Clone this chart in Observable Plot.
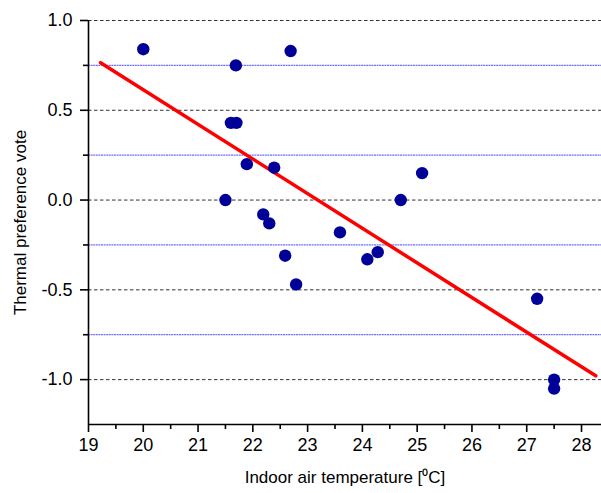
<!DOCTYPE html>
<html>
<head>
<meta charset="utf-8">
<script src="https://cdn.jsdelivr.net/npm/d3@7"></script>
<script src="https://cdn.jsdelivr.net/npm/@observablehq/plot@0.6"></script>
<style>
  html, body { margin: 0; padding: 0; background: #fff; }
  #chart svg [aria-label$="axis label"] text { font-size: 17px; }
</style>
</head>
<body>
<div id="chart"></div>
<script>
// Measured indoor air temperature [°C] and mean thermal preference vote
const temperature = [20.0, 22.69, 21.69, 21.6, 21.7, 21.89, 22.39, 21.5, 22.19, 22.3,
                     23.59, 24.7, 25.09, 24.28, 24.09, 22.59, 22.79, 27.19, 27.5, 27.5];
const preference  = [0.84, 0.83, 0.75, 0.43, 0.43, 0.20, 0.18, 0.0, -0.08, -0.13,
                     -0.18, 0.0, 0.15, -0.29, -0.33, -0.31, -0.47, -0.55, -1.0, -1.05];

// Linear fit line endpoints
const fitTemperature = [19.22, 28.26];
const fitPreference  = [0.765, -0.979];

// Axis ticks and gridlines
const xMajorTicks = [19, 20, 21, 22, 23, 24, 25, 26, 27, 28];
const xMinorTicks = [19.5, 20.5, 21.5, 22.5, 23.5, 24.5, 25.5, 26.5, 27.5];
const yMajorTicks = [-1.0, -0.5, 0.0, 0.5, 1.0];
const yMinorTicks = [-0.75, -0.25, 0.25, 0.75];

const points = temperature.map((t, i) => ({t, v: preference[i]}));
const fit = fitTemperature.map((t, i) => ({t, v: fitPreference[i]}));

const chart = Plot.plot({
  width: 601,
  height: 493,
  marginLeft: 88,
  marginTop: 20,
  marginBottom: 69,
  marginRight: 0,
  x: {domain: [19, 28.365]},
  y: {domain: [-1.25, 1.0]},
  style: {
    fontFamily: "'Liberation Sans', Arial, sans-serif",
    fontSize: "18px",
    color: "#000",
    background: "#fff",
    overflow: "visible"
  },
  marks: [
    // Gridlines: dashed at half-units, blue at the quarters
    Plot.ruleY(yMajorTicks, {stroke: "#333", strokeWidth: 1, strokeDasharray: "3.5,2.5"}),
    Plot.ruleY(yMinorTicks, {stroke: "#6f6fff", strokeWidth: 1.2, strokeDasharray: "2,0.6"}),
    // Axis lines
    Plot.ruleX([19], {stroke: "#000", strokeWidth: 1.6}),
    Plot.ruleY([-1.25], {stroke: "#000", strokeWidth: 1.6}),
    // X axis
    Plot.axisX({
      ticks: xMajorTicks, tickSize: 8, tickPadding: 6, strokeWidth: 1.6,
      tickFormat: d => String(d),
      label: "Indoor air temperature [\u2070C]", labelAnchor: "center", labelArrow: "none",
      labelOffset: 58
    }),
    Plot.axisX({ticks: xMinorTicks, tickSize: 5, strokeWidth: 1.6, tickFormat: () => "", label: null}),
    // Y axis
    Plot.axisY({
      ticks: yMajorTicks, tickSize: 8, tickPadding: 8, strokeWidth: 1.6,
      tickFormat: d => d.toFixed(1),
      label: "Thermal preference vote", labelAnchor: "center", labelArrow: "none",
      labelOffset: 75
    }),
    Plot.axisY({ticks: yMinorTicks, tickSize: 5, strokeWidth: 1.6, tickFormat: () => "", label: null}),
    // Regression line and observations
    Plot.line(fit, {x: "t", y: "v", stroke: "#ff0000", strokeWidth: 3.5}),
    Plot.dot(points, {x: "t", y: "v", r: 6.2, fill: "#000099", stroke: "none"})
  ]
});

document.getElementById("chart").append(chart);
</script>
</body>
</html>
